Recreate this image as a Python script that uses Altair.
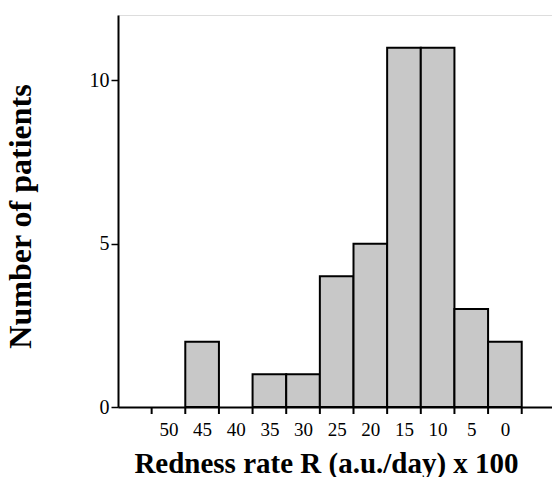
import altair as alt
import pandas as pd

# Histogram of redness rate, bins labelled by their centre (a.u./day x 100)
bin_centers = [50, 45, 40, 35, 30, 25, 20, 15, 10, 5, 0]
patients = [0, 2, 0, 1, 1, 4, 5, 11, 11, 3, 2]
bin_width = 5
y_ticks = [0, 5, 10]

bars = pd.DataFrame({
    "center": bin_centers,
    "count": patients,
})
bars["lo"] = bars["center"] - bin_width / 2
bars["hi"] = bars["center"] + bin_width / 2
bars = bars[bars["count"] > 0]

edges = sorted({c - bin_width / 2 for c in bin_centers} | {c + bin_width / 2 for c in bin_centers})
edge_df = pd.DataFrame({"edge": edges})

FONT = "Liberation Serif"
W, H = 434, 392

x_scale = alt.Scale(domain=[-7, 57.5], reverse=True, nice=False, zero=False)
y_scale = alt.Scale(domain=[0, 12.0], nice=False)

x_axis = alt.Axis(
    values=bin_centers, format="d", ticks=False, grid=False,
    labelFont=FONT, labelFontSize=19, labelColor="black", labelPadding=13,
    domainColor="black", domainWidth=2,
    title="Redness rate R (a.u./day) x 100",
    titleFont=FONT, titleFontSize=29, titleFontWeight="bold", titleColor="black",
    titleBaseline="alphabetic", titleY=65, titleX=208, titleAnchor="middle",
)
y_axis = alt.Axis(
    values=y_ticks, format="d", grid=False,
    tickSize=7, tickColor="black", tickWidth=1.5,
    labelFont=FONT, labelFontSize=20, labelColor="black", labelPadding=2,
    domainColor="black", domainWidth=2,
    title="Number of patients",
    titleFont=FONT, titleFontSize=32, titleFontWeight="bold", titleColor="black",
    titleAngle=-90, titleBaseline="bottom", titleX=-81, titleY=201, titleAlign="center",
)

hist = alt.Chart(bars).mark_rect(
    fill="#c8c8c8", stroke="black", strokeWidth=2
).encode(
    x=alt.X("lo:Q", scale=x_scale, axis=x_axis),
    x2="hi:Q",
    y=alt.Y("count:Q", scale=y_scale, axis=y_axis),
    y2=alt.datum(0),
)

edge_ticks = alt.Chart(edge_df).mark_rule(color="black", strokeWidth=2).encode(
    x=alt.X("edge:Q", scale=x_scale),
    y=alt.value(H),
    y2=alt.value(H + 7),
)

chart = alt.layer(hist, edge_ticks).properties(
    width=W, height=H,
    autosize=alt.AutoSizeParams(type="none"),
    padding={"left": 118, "top": 15, "right": 0, "bottom": 70},
).configure_view(stroke=None).configure(background="white")

chart.save("out.html", embed_options={"renderer": "svg", "actions": False})
